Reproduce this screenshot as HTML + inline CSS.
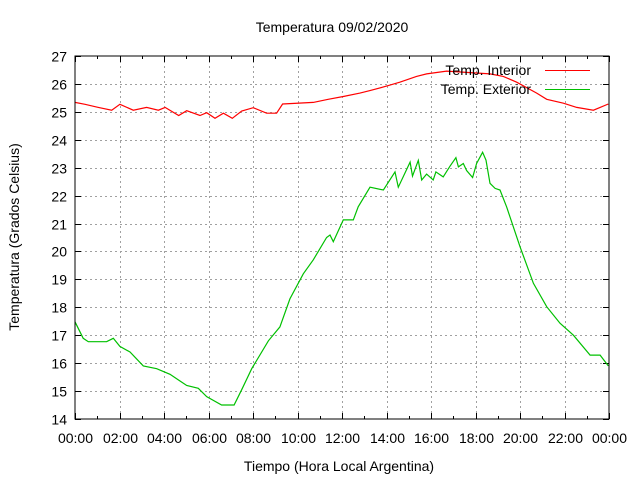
<!DOCTYPE html>
<html><head><meta charset="utf-8"><style>
html,body{margin:0;padding:0;background:#fff;}
svg{display:block;font-family:"Liberation Sans",sans-serif;}
</style></head><body>
<svg id="chart" width="640" height="480" viewBox="0 0 640 480">
<text x="332" y="32" text-anchor="middle" font-size="14">Temperatura 09/02/2020</text>
<text x="339" y="471" text-anchor="middle" font-size="14">Tiempo (Hora Local Argentina)</text>
<text transform="translate(19,237) rotate(-90)" text-anchor="middle" font-size="14">Temperatura (Grados Celsius)</text>
<g id="grid"></g>
<g id="ticks"></g>
<g id="series"></g>
<rect x="75" y="56" width="534" height="363" fill="none" stroke="#000" stroke-width="1"/>
<g>
<text x="531" y="75" text-anchor="end" font-size="14">Temp. Interior</text>
<line x1="545" y1="70.5" x2="590" y2="70.5" stroke="#ff0000"/>
<text x="531" y="94" text-anchor="end" font-size="14">Temp. Exterior</text>
<line x1="545" y1="89.5" x2="590" y2="89.5" stroke="#00c000"/>
</g>
</svg>
<script>
const yTicks = [14,15,16,17,18,19,20,21,22,23,24,25,26,27];
const xTickLabels = ["00:00","02:00","04:00","06:00","08:00","10:00","12:00","14:00","16:00","18:00","20:00","22:00","00:00"];
const interiorHours = [0,0.45,1.05,1.65,2.02,2.62,3.22,3.75,4.05,4.66,5.02,5.62,5.92,6.29,6.67,7.07,7.49,8.01,8.61,9.06,9.33,10.71,11.38,12.06,12.81,13.26,14.08,14.6,15.35,15.8,16.7,18.65,19.25,19.85,20.75,21.2,21.95,22.55,23.3,23.6,23.97];
const interiorTemps = [25.34,25.27,25.16,25.06,25.27,25.06,25.16,25.06,25.16,24.87,25.04,24.87,24.97,24.77,24.95,24.77,25.03,25.15,24.95,24.95,25.28,25.34,25.45,25.55,25.67,25.76,25.94,26.06,26.27,26.36,26.46,26.36,26.27,26.06,25.67,25.45,25.31,25.16,25.06,25.16,25.28];
const exteriorHours = [0,0.37,0.6,1.42,1.72,2.02,2.47,3.07,3.67,4.27,5.02,5.54,5.92,6.59,7.15,7.49,7.94,8.69,9.21,9.66,10.26,10.71,11.31,11.46,11.61,12.06,12.51,12.73,13.26,13.86,14.38,14.53,15.06,15.17,15.43,15.58,15.8,16.1,16.22,16.55,16.85,17.12,17.23,17.45,17.6,17.87,18.05,18.32,18.47,18.65,18.88,19.1,19.4,20.0,20.6,21.2,21.8,22.4,23.15,23.6,23.97];
const exteriorTemps = [17.48,16.89,16.77,16.77,16.89,16.6,16.4,15.9,15.8,15.6,15.2,15.1,14.8,14.5,14.5,15.05,15.8,16.8,17.3,18.3,19.2,19.7,20.5,20.59,20.35,21.13,21.13,21.6,22.3,22.2,22.85,22.3,23.2,22.7,23.26,22.56,22.77,22.56,22.85,22.67,23.05,23.36,23.03,23.15,22.9,22.65,23.15,23.55,23.27,22.44,22.26,22.2,21.6,20.17,18.86,18.02,17.43,17.0,16.29,16.29,15.9];

const L=75,R=609,T=56,B=419,yMin=14,yMax=27,xMax=24;
const xs = h => L + h/xMax*(R-L);
const ys = v => B - (v-yMin)/(yMax-yMin)*(B-T);
const NS="http://www.w3.org/2000/svg";
const grid=document.getElementById('grid'), ticks=document.getElementById('ticks'), series=document.getElementById('series');
function mk(tag, attrs, parent){const e=document.createElementNS(NS,tag);for(const k in attrs)e.setAttribute(k,attrs[k]);parent.appendChild(e);return e;}

yTicks.forEach((v,i)=>{
  const y=Math.round(ys(v))+0.5;
  if(i>0&&i<yTicks.length-1){
    const g=mk('line',{x1:L,x2:R,y1:y,y2:y,stroke:'#a0a0a0','stroke-dasharray':'2,3'},grid);
    
    
  }
  const t1=mk('line',{x1:L,x2:L+6,y1:y,y2:y,stroke:'#000'},ticks);
  
  
  const t2=mk('line',{x1:R-6,x2:R,y1:y,y2:y,stroke:'#000'},ticks);
  
  
  const lb=mk('text',{x:67,y:y+5,'text-anchor':'end','font-size':14},ticks);
  lb.textContent=v;
  
  
});
xTickLabels.forEach((s,i)=>{
  const h=i*2, x=Math.round(xs(h))+0.5;
  if(i>0&&i<xTickLabels.length-1){
    const g=mk('line',{x1:x,x2:x,y1:T,y2:B,stroke:'#a0a0a0','stroke-dasharray':'2,3'},grid);
    
    
  }
  const t1=mk('line',{x1:x,x2:x,y1:B-6,y2:B,stroke:'#000'},ticks);
  
  
  const t2=mk('line',{x1:x,x2:x,y1:T,y2:T+6,stroke:'#000'},ticks);
  
  
  if(i<xTickLabels.length-1){
    const xm=Math.round(xs(h+1))+0.5;
    const m1=mk('line',{x1:xm,x2:xm,y1:B-3,y2:B,stroke:'#000'},ticks);
    
    
    const m2=mk('line',{x1:xm,x2:xm,y1:T,y2:T+3,stroke:'#000'},ticks);
    
    
  }
  const lb=mk('text',{x:x,y:443,'text-anchor':'middle','font-size':14},ticks);
  lb.textContent=s;
  
  
});
function path(hs,vs){return hs.map((h,i)=>(i?'L':'M')+xs(h).toFixed(1)+','+ys(vs[i]).toFixed(1)).join(' ');}
const pi=mk('path',{d:path(interiorHours,interiorTemps),fill:'none',stroke:'#ff0000','stroke-width':1.2},series);


const pe=mk('path',{d:path(exteriorHours,exteriorTemps),fill:'none',stroke:'#00c000','stroke-width':1.2},series);


</script>
</body></html>
